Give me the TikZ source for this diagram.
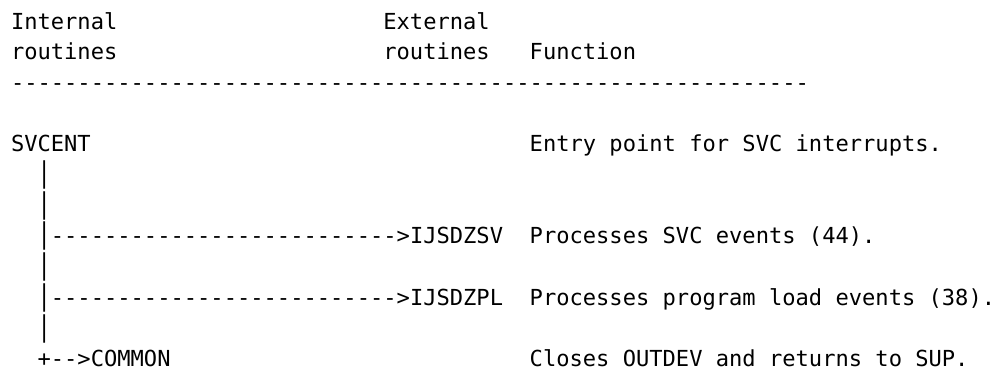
\documentclass[tikz,border=0pt]{standalone}
\usepackage{fontspec}
\usepackage{graphicx}
\setmonofont{DejaVu Sans Mono}
\begin{document}
% Character grid: one column = 13.3pt, one line = 30.7pt
\begin{tikzpicture}[x=13.3pt, y=-30.7pt,
  txt/.style={anchor=base west, inner sep=0pt, outer sep=0pt,
    font=\ttfamily\fontsize{22.09pt}{30.7pt}\selectfont},
  vbar/.style={txt}]
\fill[white] (-11pt,29pt) rectangle (986pt,-344pt);
\useasboundingbox (-11pt,29pt) rectangle (986pt,-344pt);
\newcommand{\pipe}{\scalebox{1}[1.29]{|}}

% column headings
\node[txt] (intA) at (0,0) {Internal};
\node[txt] (extA) at (28,0) {External};
\node[txt] (intB) at (0,1) {routines};
\node[txt] (extB) at (28,1) {routines};
\node[txt] (func) at (39,1) {Function};
\node[txt] (rule) at (0,2) {------------------------------------------------------------};

% entry point
\node[txt] (svcent) at (0,4) {SVCENT};
\node[txt] (svcentF) at (39,4) {Entry point for SVC interrupts.};

% trunk
\node[vbar] (v5) at (2,5) {\pipe};
\node[vbar] (v6) at (2,6) {\pipe};
\node[vbar] (v7) at (2,7) {\pipe};
\node[vbar] (v8) at (2,8) {\pipe};
\node[vbar] (v9) at (2,9) {\pipe};
\node[vbar] (v10) at (2,10) {\pipe};

% calls to external routines
\node[txt] (toSV) at (3,7) {-------------------------->};
\node[txt] (zsv) at (30,7) {IJSDZSV};
\node[txt] (zsvF) at (39,7) {Processes SVC events (44).};

\node[txt] (toPL) at (3,9) {-------------------------->};
\node[txt] (zpl) at (30,9) {IJSDZPL};
\node[txt] (zplF) at (39,9) {Processes program load events (38).};

% branch to COMMON
\node[txt] (toCommon) at (2,11) {+-->};
\node[txt] (common) at (6,11) {COMMON};
\node[txt] (commonF) at (39,11) {Closes OUTDEV and returns to SUP.};
\end{tikzpicture}
\end{document}
